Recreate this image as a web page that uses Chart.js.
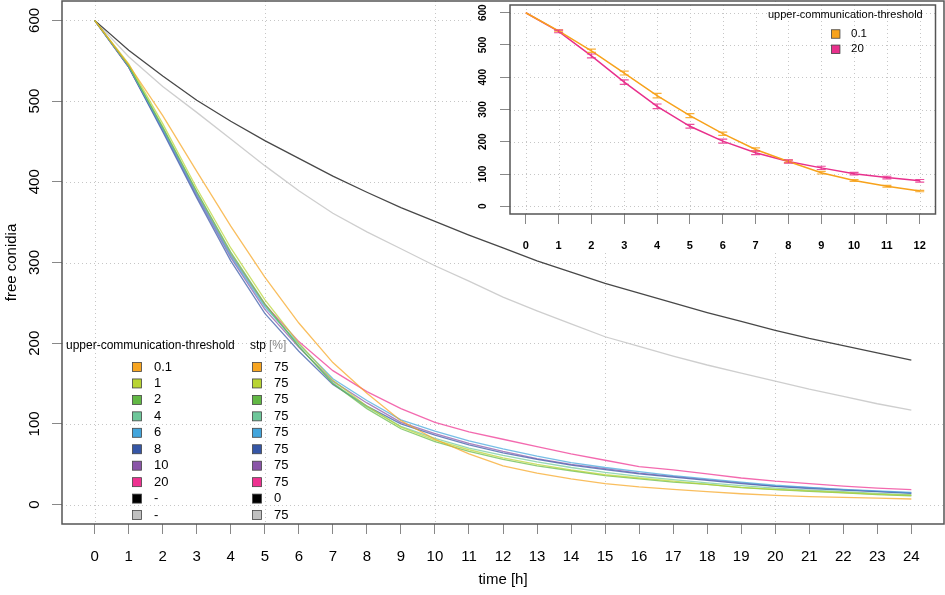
<!DOCTYPE html>
<html><head><meta charset="utf-8">
<script src="https://cdn.jsdelivr.net/npm/chart.js@4.4.1/dist/chart.umd.min.js"></script>
<style>
html,body{margin:0;padding:0;background:#fff;}
#wrap{position:relative;width:945px;height:595px;overflow:hidden;}
#main{position:absolute;left:0;top:0;}
#inset{position:absolute;left:470px;top:1px;}
</style></head><body>
<div id="wrap"><canvas id="main" width="945" height="595"></canvas><canvas id="inset" width="474" height="249"></canvas></div>
<script>
// ---------- data ----------
const hours = [0,1,2,3,4,5,6,7,8,9,10,11,12,13,14,15,16,17,18,19,20,21,22,23,24];
const xTickValues = hours;
const xGridValues = [0,5,10,15,20];
const yTickValues = [0,100,200,300,400,500,600];

const uct01  = [600,545,482,413,345,282,225,176,138,104,81,63,48,39,32,26,22,19,16,13.5,11.5,10,9,8,7];
const uct1   = [600,546,472,392,318,254,200,154,122,96,80,68,58,50,43,37,33,29,25,21.5,19,17,15,13,11.5];
const uct2   = [600,544,468,388,313,249,196,150,119,94,78,66,56,48,42,36,32,28,25,21,18.5,16.5,14.5,12.5,11];
const uct4   = [600,543,467,387,311,247,196,151,121,97,82,70,61,53,46,40,35,31,27,23.5,20.5,18,16,14,12.5];
const uct6   = [600,543,465,384,308,245,199,156,129,105,91,79,69,60,52,46,41,36,32,28,24,21.5,19,17,15];
const uct8   = [600,542,462,380,302,237,190,149,122,100,86,74,64,56,49,43.5,38,34,30,26,22.5,20,18,16,14];
const uct10  = [600,542,464,382,306,242,195,153,126,102,88,76,66,57,50,44.5,39,35,31,27,23,21,18.5,16.5,14.5];
const uct20  = [600,542,466,385,310,248,202,166,140,119,102,90,81,72,63,55,47,43,38,33,29,26,23,20.5,18.5];
const stp0   = [600,563,531,501,475,451,429,407,387,368,351,334,318,302,288,274,262,250,238,227,216,206,197,188,179];
const stp75n = [600,555,518,486,453,420,389,361,338,317,296,277,257,240,224,208,196,184,173,163,153,143,134,125,117];

const legendThresholds = ['0.1','1','2','4','6','8','10','20','-','-'];
const legendStp = ['75','75','75','75','75','75','75','75','0','75'];
const seriesColors = ['#f7a520','#b8d432','#62b844','#6ec79a','#42a5dc','#3556a6','#8a55a8','#ee3190','#000000','#c0c0c0'];

const insetHours = [0,1,2,3,4,5,6,7,8,9,10,11,12];
const insetOrange = [600,544,482,413,343,281,225,176,139,104,80,62,47];
const insetPink   = [600,542,466,385,310,248,202,166,139,119,101,89,79];
const insetOrangeErr = [0,3,5,6,7,6,5,5,4,4,3,3,2];
const insetPinkErr   = [0,4,6,7,7,6,6,6,5,5,4,4,4];
const insetLegend = ['0.1','20'];
const insetColors = ['#f7a21b','#e8308c'];

// ---------- helpers ----------
const FONT = "'Liberation Sans', Arial, Helvetica, sans-serif";
Chart.defaults.font.family = FONT;
function rgba(hex, a){
  const n = parseInt(hex.slice(1),16);
  return 'rgba(' + ((n>>16)&255) + ',' + ((n>>8)&255) + ',' + (n&255) + ',' + a + ')';
}
function drawDottedGrid(ctx, area, xs, ys, xs_, ys_){
  ctx.save();
  ctx.beginPath(); ctx.rect(area.left, area.top, area.right-area.left, area.bottom-area.top); ctx.clip();
  ctx.strokeStyle = '#c6c6c6'; ctx.lineWidth = 1; ctx.setLineDash([1,3]);
  xs.forEach(v => { const p = Math.round(xs_.getPixelForValue(v)) + 0.5;
    ctx.beginPath(); ctx.moveTo(p, area.top); ctx.lineTo(p, area.bottom); ctx.stroke(); });
  ys.forEach(v => { const p = Math.round(ys_.getPixelForValue(v)) + 0.5;
    ctx.beginPath(); ctx.moveTo(area.left, p); ctx.lineTo(area.right, p); ctx.stroke(); });
  ctx.restore();
}
function drawBox(ctx, area){
  ctx.save(); ctx.strokeStyle = '#555'; ctx.lineWidth = 1.5; ctx.setLineDash([]);
  ctx.strokeRect(area.left, area.top, area.right-area.left, area.bottom-area.top); ctx.restore();
}
function drawRotYLabels(ctx, scale, values, x, font){
  ctx.save(); ctx.fillStyle = '#000'; ctx.font = font; ctx.textAlign = 'center'; ctx.textBaseline = 'middle';
  values.forEach(v => { const p = scale.getPixelForValue(v);
    ctx.save(); ctx.translate(x, p); ctx.rotate(-Math.PI/2); ctx.fillText(String(v), 0, 0); ctx.restore(); });
  ctx.restore();
}
function legendBox(ctx, cx, cy, size, color){
  ctx.fillStyle = color; ctx.fillRect(cx-size/2, cy-size/2, size, size);
  ctx.strokeStyle = '#444'; ctx.lineWidth = 0.8; ctx.strokeRect(cx-size/2, cy-size/2, size, size);
}

// ---------- main chart ----------
const seriesValues = [uct01,uct1,uct2,uct4,uct6,uct8,uct10,uct20,stp0,stp75n];
const lineColors = seriesColors.map((c,i) => i===8 ? 'rgba(0,0,0,0.72)' : (i===9 ? 'rgba(190,190,190,0.75)' : rgba(c,0.72)));

const mainDecor = {
  id:'mainDecor',
  beforeDraw(chart){
    const ctx = chart.ctx; ctx.save(); ctx.fillStyle = '#fff'; ctx.fillRect(0,0,chart.width,chart.height); ctx.restore();
  },
  beforeDatasetsDraw(chart){
    const ctx = chart.ctx, a = chart.chartArea, sx = chart.scales.x, sy = chart.scales.y;
    drawDottedGrid(ctx, a, xGridValues, yTickValues, sx, sy);
    // white background of the inset figure region
    ctx.save(); ctx.fillStyle = '#fff'; ctx.fillRect(474, a.top+1, a.right-1-474, 250); ctx.restore();
    drawBox(ctx, a);
  },
  afterDraw(chart){
    const ctx = chart.ctx, a = chart.chartArea, sy = chart.scales.y;
    drawRotYLabels(ctx, sy, yTickValues, 35, '15px ' + FONT);
    ctx.save(); ctx.fillStyle = '#000'; ctx.font = '15px ' + FONT; ctx.textAlign = 'center'; ctx.textBaseline = 'middle';
    ctx.fillText('time [h]', (a.left + a.right)/2, 580);
    ctx.translate(12, (a.top + a.bottom)/2); ctx.rotate(-Math.PI/2); ctx.fillText('free conidia', 0, 0);
    ctx.restore();
    // legend
    ctx.save(); ctx.textBaseline = 'middle'; ctx.textAlign = 'left';
    ctx.font = '12px ' + FONT; ctx.fillStyle = '#000';
    ctx.fillText('upper-communication-threshold', 66, 346);
    ctx.fillText('stp', 250, 346);
    ctx.fillStyle = '#888'; ctx.fillText('[%]', 269, 346);
    ctx.font = '13px ' + FONT;
    legendThresholds.forEach((t,i) => {
      const y = 367 + i*16.45;
      legendBox(ctx, 137, y, 9, seriesColors[i]);
      legendBox(ctx, 257, y, 9, seriesColors[i]);
      ctx.fillStyle = '#000';
      ctx.fillText(t, 154, y);
      ctx.fillText(legendStp[i], 274, y);
    });
    ctx.restore();
  }
};

new Chart(document.getElementById('main'), {
  type:'line',
  data:{ datasets: seriesValues.map((vals,i) => ({
    label: legendThresholds[i] + ' / ' + legendStp[i],
    data: hours.map((h,j) => ({x:h, y:vals[j]})),
    borderColor: lineColors[i], borderWidth: 1.3, pointRadius: 0, tension: 0, fill: false
  }))},
  options:{
    responsive:false, animation:false,
    layout:{padding:{top:1,right:1,left:0,bottom:0}},
    plugins:{legend:{display:false}, tooltip:{enabled:false}},
    scales:{
      x:{type:'linear', min:-0.96, max:24.96,
        afterBuildTicks: s => { s.ticks = xTickValues.map(v => ({value:v})); },
        afterFit: s => { s.height = 71; },
        ticks:{autoSkip:false, maxRotation:0, minRotation:0, color:'#000', font:{size:15}, padding:14, callback: v => String(v)},
        grid:{drawOnChartArea:false, drawTicks:true, tickLength:10, tickColor:'#888', tickWidth:1},
        border:{display:false}},
      y:{type:'linear', min:-24, max:624,
        afterBuildTicks: s => { s.ticks = yTickValues.map(v => ({value:v})); },
        afterFit: s => { s.width = 62; },
        ticks:{display:false},
        grid:{drawOnChartArea:false, drawTicks:true, tickLength:10, tickColor:'#888', tickWidth:1},
        border:{display:false}}
    }
  },
  plugins:[mainDecor]
});

// ---------- inset chart ----------
const insetSeries = [insetOrange, insetPink];
const insetErrs = [insetOrangeErr, insetPinkErr];
const insetDecor = {
  id:'insetDecor',
  beforeDatasetsDraw(chart){
    const ctx = chart.ctx, a = chart.chartArea;
    drawDottedGrid(ctx, a, insetHours, yTickValues, chart.scales.x, chart.scales.y);
  },
  afterDatasetsDraw(chart){
    const ctx = chart.ctx, sx = chart.scales.x, sy = chart.scales.y;
    ctx.save(); ctx.lineWidth = 1.2;
    insetSeries.forEach((vals,k) => {
      ctx.strokeStyle = rgba(insetColors[k], 0.85);
      vals.forEach((v,i) => {
        const e = insetErrs[k][i]; if (!e) return;
        const px = sx.getPixelForValue(insetHours[i]);
        const y1 = sy.getPixelForValue(v - e), y2 = sy.getPixelForValue(v + e);
        ctx.beginPath();
        ctx.moveTo(px, y1); ctx.lineTo(px, y2);
        ctx.moveTo(px-4.5, y1); ctx.lineTo(px+4.5, y1);
        ctx.moveTo(px-4.5, y2); ctx.lineTo(px+4.5, y2);
        ctx.stroke();
      });
    });
    ctx.restore();
    drawBox(ctx, chart.chartArea);
  },
  afterDraw(chart){
    const ctx = chart.ctx;
    drawRotYLabels(ctx, chart.scales.y, yTickValues, 13.5, 'bold 10px ' + FONT);
    ctx.save(); ctx.textBaseline = 'middle'; ctx.textAlign = 'left'; ctx.fillStyle = '#000';
    ctx.font = '11px ' + FONT;
    ctx.fillText('upper-communication-threshold', 298, 14);
    ctx.font = '11.5px ' + FONT;
    insetLegend.forEach((t,i) => {
      const y = 33 + i*15.3;
      legendBox(ctx, 365.7, y, 8.5, insetColors[i]);
      ctx.fillStyle = '#000'; ctx.fillText(t, 381, y);
    });
    ctx.restore();
  }
};

new Chart(document.getElementById('inset'), {
  type:'line',
  data:{ datasets: insetSeries.map((vals,k) => ({
    label: insetLegend[k],
    data: insetHours.map((h,j) => ({x:h, y:vals[j]})),
    borderColor: insetColors[k], borderWidth: 1.5, pointRadius: 0, tension: 0, fill: false
  }))},
  options:{
    responsive:false, animation:false,
    layout:{padding:{top:4,right:8.5,left:0,bottom:0}},
    plugins:{legend:{display:false}, tooltip:{enabled:false}},
    scales:{
      x:{type:'linear', min:-0.48, max:12.48,
        afterBuildTicks: s => { s.ticks = insetHours.map(v => ({value:v})); },
        afterFit: s => { s.height = 36; },
        ticks:{autoSkip:false, maxRotation:0, minRotation:0, color:'#000', font:{size:11, weight:'bold'}, padding:15, callback: v => String(v)},
        grid:{drawOnChartArea:false, drawTicks:true, tickLength:10, tickColor:'#888', tickWidth:1},
        border:{display:false}},
      y:{type:'linear', min:-24, max:624,
        afterBuildTicks: s => { s.ticks = yTickValues.map(v => ({value:v})); },
        afterFit: s => { s.width = 40; },
        ticks:{display:false},
        grid:{drawOnChartArea:false, drawTicks:true, tickLength:10, tickColor:'#888', tickWidth:1},
        border:{display:false}}
    }
  },
  plugins:[insetDecor]
});
</script>
</body></html>
